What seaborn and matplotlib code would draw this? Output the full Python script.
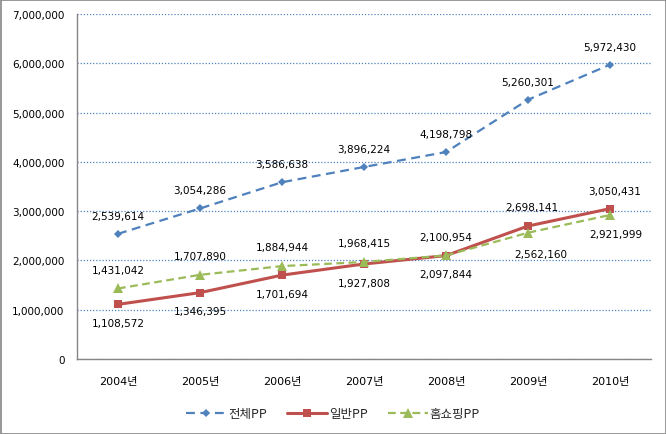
import matplotlib
matplotlib.use("Agg")
import matplotlib.pyplot as plt
import seaborn as sns
import pandas as pd
from matplotlib.ticker import FuncFormatter

years = ["2004년", "2005년", "2006년", "2007년", "2008년", "2009년", "2010년"]
total_pp = [2539614, 3054286, 3586638, 3896224, 4198798, 5260301, 5972430]
general_pp = [1108572, 1346395, 1701694, 1927808, 2097844, 2698141, 3050431]
homeshop_pp = [1431042, 1707890, 1884944, 1968415, 2100954, 2562160, 2921999]
series_names = ["전체PP", "일반PP", "홈쇼핑PP"]

sns.set_theme(style="white")
plt.rcParams["font.family"] = ["Noto Sans CJK KR", "DejaVu Sans"]

fig = plt.figure(figsize=(6.66, 4.35), dpi=100)
ax = fig.add_axes([77/666, 75/435, 574/666, 345/435])

df = pd.DataFrame({"year": years * 3,
                   "value": total_pp + general_pp + homeshop_pp,
                   "series": [series_names[0]] * 7 + [series_names[1]] * 7 + [series_names[2]] * 7})

colors = {"전체PP": "#4F81BD", "일반PP": "#C0504D", "홈쇼핑PP": "#9BBB59"}
styles = {"전체PP": dict(marker="D", ls=(0, (4, 2.5)), lw=1.6, ms=4.5),
          "일반PP": dict(marker="s", ls="-", lw=2.2, ms=5.5),
          "홈쇼핑PP": dict(marker="^", ls=(0, (3.5, 2)), lw=1.6, ms=6.5)}

for name in series_names:
    sub = df[df.series == name]
    st = styles[name]
    sns.lineplot(data=sub, x="year", y="value", ax=ax, color=colors[name],
                 marker=st["marker"], linestyle=st["ls"], linewidth=st["lw"],
                 markersize=st["ms"], markeredgewidth=0, label=name, sort=False,
                 legend=False)

fs = 7.5
txt = dict(fontsize=fs, color="black", ha="center", va="center", family=["DejaVu Sans"],
           textcoords="offset points")
for i, v in enumerate(total_pp):
    ax.annotate(f"{v:,}", (i, v), xytext=(0, 13), **txt)
for i, v in enumerate(general_pp):
    if i < 5:
        ax.annotate(f"{v:,}", (i, v), xytext=(0, -13.5), **txt)
    else:
        ax.annotate(f"{v:,}", (i, v), xytext=(3, 14 if i == 5 else 13), **txt)
for i, v in enumerate(homeshop_pp):
    if i < 5:
        ax.annotate(f"{v:,}", (i, v), xytext=(0, 13.5), **txt)
    elif i == 5:
        ax.annotate(f"{v:,}", (i, v), xytext=(9, -15.5), **txt)
    else:
        ax.annotate(f"{v:,}", (i, v), xytext=(4, -14), **txt)

ax.set_ylim(0, 7000000)
ax.set_xlim(-0.5, 6.5)
ax.set_yticks(range(0, 7000001, 1000000))
ax.yaxis.set_major_formatter(FuncFormatter(lambda v, p: f"{int(v):,}"))
ax.set_xlabel("")
ax.set_ylabel("")
ax.tick_params(axis="both", labelsize=8, colors="black", length=0)
ax.tick_params(axis="x", pad=12)
ax.tick_params(axis="y", pad=9)
for lab in ax.get_yticklabels():
    lab.set_fontfamily(["DejaVu Sans"])
    lab.set_fontsize(7.5)
for lab in ax.get_xticklabels():
    lab.set_fontfamily(["DejaVu Sans", "Noto Sans CJK KR"])
    lab.set_fontsize(8)
ax.yaxis.grid(True, color="#4F81BD", linestyle=(0, (1, 1.5)), linewidth=0.9)
ax.set_axisbelow(True)
for s in ["top", "right"]:
    ax.spines[s].set_visible(False)
for s in ["left", "bottom"]:
    ax.spines[s].set_color("#868686")
    ax.spines[s].set_linewidth(1.0)

handles = ax.get_lines()[:3]
fig.legend(handles, series_names, loc="center", bbox_to_anchor=(0.5, 20/435), ncol=3, frameon=False,
           fontsize=9, handlelength=3.2, columnspacing=1.6, handletextpad=0.15)

fig.patches.append(plt.Rectangle((0.5/666, 0.5/435), 1 - 1/666, 1 - 1/435, transform=fig.transFigure,
                                 fill=False, edgecolor="#868686", linewidth=1.2))

fig.savefig("out.png", dpi=100)
